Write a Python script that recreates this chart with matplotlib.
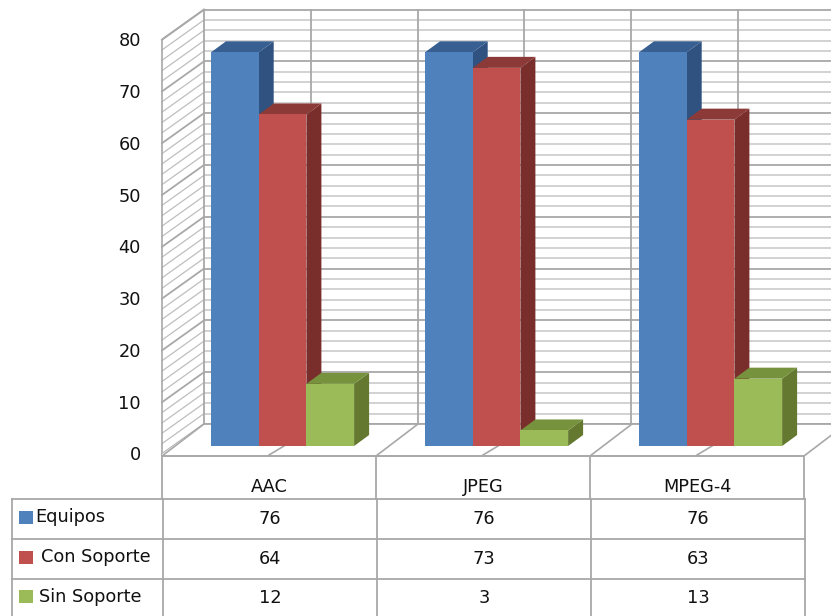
import matplotlib
matplotlib.use("Agg")
import matplotlib.pyplot as plt
from matplotlib.patches import Polygon, Rectangle

categories = ["AAC", "JPEG", "MPEG-4"]
series_names = ["Equipos", "Con Soporte", "Sin Soporte"]
equipos = [76, 76, 76]
con_soporte = [64, 73, 63]
sin_soporte = [12, 3, 13]
y_ticks = [0, 10, 20, 30, 40, 50, 60, 70, 80]

series_values = [equipos, con_soporte, sin_soporte]
face_colors = ["#4F81BD", "#C0504D", "#9BBB59"]
top_colors = ["#385F91", "#8C3A38", "#76923C"]
side_colors = ["#2F5280", "#7A2E2C", "#64792F"]

W, H = 831, 616
UNIT = 5.18          # pixels per value unit
ZERO_Y = 454         # pixel row of value 0 on the front plane

GRID_MAJOR = "#A8A8A8"
GRID_MINOR = "#D2D2D2"
WALL_MINOR = "#BEBEBE"
TEXT = "#111111"
FONT = "DejaVu Sans"
FONT_SIZE = 12.8

fig = plt.figure(figsize=(W / 100, H / 100), dpi=100, facecolor="white")
ax = fig.add_axes([0, 0, 1, 1])
ax.set_xlim(0, W)
ax.set_ylim((ZERO_Y - H) / UNIT, ZERO_Y / UNIT)
ax.axis("off")


def px(dy):
    """Convert a pixel height into value units."""
    return dy / UNIT


# Depth of the chart box, horizontal pixels and value units
WALL_X0, WALL_DX = 162, 42
WALL_DV = px(30)
BACK_RIGHT = W
TOP = y_ticks[-1]

# Back wall and side wall grid, one line every two units
for v in range(0, TOP + 1, 2):
    major = v % 10 == 0
    ax.plot([WALL_X0 + WALL_DX, BACK_RIGHT], [v + WALL_DV] * 2,
            color=GRID_MAJOR if major else GRID_MINOR, lw=1.3 if major else 1.4,
            zorder=1.2 if major else 1, solid_capstyle="butt")
    ax.plot([WALL_X0, WALL_X0 + WALL_DX], [v, v + WALL_DV],
            color=GRID_MAJOR if major else WALL_MINOR, lw=1.3 if major else 0.9, zorder=1)

# Vertical wall divisions
for i in range(6):
    x = WALL_X0 + WALL_DX + i * 106.8
    ax.plot([x, x], [WALL_DV, TOP + WALL_DV], color=GRID_MAJOR, lw=1.3, zorder=1.5)
ax.plot([WALL_X0, WALL_X0], [0, TOP], color=GRID_MAJOR, lw=1.2, zorder=1.5)
ax.plot([WALL_X0, WALL_X0 + WALL_DX], [TOP, TOP + WALL_DV], color=GRID_MAJOR, lw=1.2, zorder=1.5)

# Floor: white plane with category dividers
ax.add_patch(Polygon([(WALL_X0, 0), (WALL_X0 + WALL_DX, WALL_DV), (BACK_RIGHT, WALL_DV),
                      (BACK_RIGHT, -px(2)), (WALL_X0, -px(2))],
                     closed=True, fc="white", ec="none", zorder=1.8))
ax.plot([WALL_X0 + WALL_DX, BACK_RIGHT], [WALL_DV, WALL_DV], color=GRID_MAJOR, lw=1.3, zorder=1.9)
CAT_W = 214
for i in range(4):
    x = WALL_X0 + i * CAT_W
    ax.plot([x, x + WALL_DX], [-px(2), WALL_DV], color=GRID_MAJOR, lw=1.2, zorder=1.9)
    if i < 3:
        ax.plot([x + CAT_W / 2, x + CAT_W / 2 + 15], [-px(1), px(8)], color=GRID_MAJOR, lw=1.2, zorder=1.9)
ax.plot([WALL_X0, WALL_X0 + 3 * CAT_W], [-px(2), -px(2)], color=GRID_MAJOR, lw=1.4, zorder=1.9)

# Bars: front face from the library, side and top faces as depth polygons
BAR_W = 47.7
BAR_BASE = px(8)
BAR_DX, BAR_DV = 15, px(11)
BAR_LEFT = 211
for s, values in enumerate(series_values):
    for c, v in enumerate(values):
        x0 = BAR_LEFT + c * CAT_W + s * BAR_W
        x1 = x0 + BAR_W
        y0, y1 = BAR_BASE, BAR_BASE + v
        z = 3 + s + c * 10
        ax.add_patch(Polygon([(x1, y0), (x1 + BAR_DX, y0 + BAR_DV), (x1 + BAR_DX, y1 + BAR_DV), (x1, y1)],
                             closed=True, fc=side_colors[s], ec="none", zorder=z))
        ax.add_patch(Polygon([(x0, y1), (x0 + BAR_DX, y1 + BAR_DV), (x1 + BAR_DX, y1 + BAR_DV), (x1, y1)],
                             closed=True, fc=top_colors[s], ec="none", zorder=z))
        ax.bar(x0, v, width=BAR_W, bottom=BAR_BASE, align="edge", color=face_colors[s], lw=0, zorder=z + 0.5)

# Value axis labels
for v in y_ticks:
    ax.text(141, v - px(1.5), str(v), ha="right", va="center", fontsize=FONT_SIZE,
            color=TEXT, family=FONT, zorder=40)


def row_v(py):
    """Value coordinate of a pixel row in the table area."""
    return (ZERO_Y - py) / UNIT


# Data table below the chart
TABLE_Z = 30
col_x = [163 + i * CAT_W for i in range(4)]
rows_y = [499, 539, 579]
for py in rows_y:
    ax.plot([12, col_x[-1]], [row_v(py)] * 2, color=GRID_MAJOR, lw=1.3, zorder=TABLE_Z)
ax.plot([12, 12], [row_v(499), row_v(H)], color=GRID_MAJOR, lw=1.3, zorder=TABLE_Z)
for x in col_x:
    ax.plot([x, x], [row_v(499), row_v(H)], color=GRID_MAJOR, lw=1.3, zorder=TABLE_Z)
    ax.plot([x - 1, x - 1], [row_v(456), row_v(499)], color=GRID_MAJOR, lw=1.3, zorder=TABLE_Z)

for c, name in enumerate(categories):
    cx = 269 + c * CAT_W
    ax.text(cx, row_v(487), name, ha="center", va="center", fontsize=FONT_SIZE, color=TEXT, family=FONT, zorder=40)
    for s, values in enumerate(series_values):
        ax.text(cx + 1, row_v([519, 559, 598][s]), str(values[c]), ha="center", va="center",
                fontsize=FONT_SIZE, color=TEXT, family=FONT, zorder=40)

label_x = [35, 41, 39]
label_y = [517, 557, 597]
swatch_y = [517, 557, 596]
for s, name in enumerate(series_names):
    ax.add_patch(Rectangle((19, row_v(swatch_y[s] + 6.5)), 14, px(13), fc=face_colors[s], ec="none", zorder=40))
    ax.text(label_x[s], row_v(label_y[s]), name, ha="left", va="center", fontsize=FONT_SIZE,
            color=TEXT, family=FONT, zorder=40)

fig.savefig("out.png", dpi=100, facecolor="white")
